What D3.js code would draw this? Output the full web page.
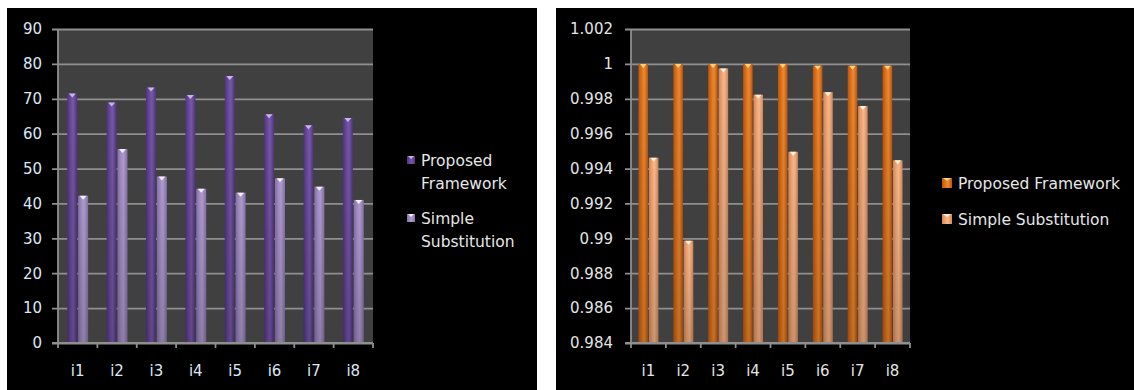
<!DOCTYPE html>
<html>
<head>
<meta charset="utf-8">
<script src="https://cdn.jsdelivr.net/npm/d3@7"></script>
<style>
  body { margin: 0; background: #fff; }
  svg text { font-family: "DejaVu Sans", Verdana, sans-serif; }
</style>
</head>
<body>
<div id="Chart"></div>
<script>
// categories shared by both charts
var categories = ["i1", "i2", "i3", "i4", "i5", "i6", "i7", "i8"];
var seriesNames = ["Proposed Framework", "Simple Substitution"];

// left chart values
var leftProposed = [71.5, 68.9, 73.2, 71.1, 76.5, 65.6, 62.4, 64.5];
var leftSimple   = [42.2, 55.6, 47.7, 44.2, 43.1, 47.2, 44.8, 41.0];
var leftTicks = [0, 10, 20, 30, 40, 50, 60, 70, 80, 90];
var leftTickLabels = ["0", "10", "20", "30", "40", "50", "60", "70", "80", "90"];

// right chart values
var rightProposed = [1.0, 1.0, 1.0, 1.0, 1.0, 0.9999, 0.9999, 0.9999];
var rightSimple   = [0.99462, 0.98986, 0.99974, 0.99823, 0.99496, 0.99838, 0.99758, 0.99447];
var rightTicks = [0.984, 0.986, 0.988, 0.99, 0.992, 0.994, 0.996, 0.998, 1.0, 1.002];
var rightTickLabels = ["0.984", "0.986", "0.988", "0.99", "0.992", "0.994", "0.996", "0.998", "1", "1.002"];

var svg = d3.select("#Chart")
    .append("svg")
    .attr("width", 1134)
    .attr("height", 390)
    .attr("class", "chart");

var defs = svg.append("defs");

// horizontal shading to give the bars a rounded look
function addGradient(id, edge, mid, light) {
    var g = defs.append("linearGradient").attr("id", id)
        .attr("x1", "0%").attr("x2", "100%").attr("y1", "0%").attr("y2", "0%");
    g.append("stop").attr("offset", "0%").attr("stop-color", edge);
    g.append("stop").attr("offset", "35%").attr("stop-color", mid);
    g.append("stop").attr("offset", "60%").attr("stop-color", light);
    g.append("stop").attr("offset", "100%").attr("stop-color", edge);
}
addGradient("purpleDark", "#4e3578", "#6a4a9e", "#7658aa");
addGradient("purpleLight", "#8370a4", "#a38ec6", "#ae9bcd");
addGradient("orangeDark", "#b9560f", "#e2741c", "#ee8a30");
addGradient("orangeLight", "#cf865a", "#f2a775", "#f8b88c");

var shade = defs.append("linearGradient").attr("id", "shade")
    .attr("x1", "0%").attr("x2", "0%").attr("y1", "0%").attr("y2", "100%");
shade.append("stop").attr("offset", "0%").attr("stop-color", "#000").attr("stop-opacity", 0);
shade.append("stop").attr("offset", "100%").attr("stop-color", "#000").attr("stop-opacity", 0.18);

// black panels
svg.append("rect").attr("x", 7).attr("y", 8).attr("width", 530).attr("height", 382).attr("fill", "#000");
svg.append("rect").attr("x", 556).attr("y", 8).attr("width", 578).attr("height", 382).attr("fill", "#000");

function drawChart(opt) {
    var data = categories.map(function(c, i) {
        return {cat: c, values: [opt.a[i], opt.b[i]]};
    });

    var x = d3.scaleBand().domain(categories).range([opt.left, opt.right]);
    var xs = d3.scaleBand().domain([0, 1]).range([0, x.bandwidth()])
        .paddingInner(0.08).paddingOuter(opt.outer);
    var y = d3.scaleLinear().domain(opt.domain).range([343, 29]);

    var g = svg.append("g");

    // plot area background
    g.append("rect")
        .attr("x", opt.left).attr("y", y(opt.domain[1]))
        .attr("width", opt.right - opt.left)
        .attr("height", y(opt.domain[0]) - y(opt.domain[1]))
        .attr("fill", "#404040");

    // Y axis with gridlines
    var yAxis = d3.axisLeft(y)
        .tickValues(opt.ticks)
        .tickSize(-(opt.right - opt.left))
        .tickPadding(opt.pad)
        .tickFormat(function(d, i) { return opt.labels[i]; });
    var ya = g.append("g")
        .attr("class", "y axis")
        .attr("transform", "translate(" + opt.left + ",0)")
        .call(yAxis);
    ya.select(".domain").remove();
    ya.selectAll(".tick line")
        .attr("x1", -6)
        .attr("stroke", "#8f8f8f")
        .attr("stroke-width", 1.8);
    ya.selectAll(".tick text")
        .attr("fill", opt.textColor)
        .style("font-size", "15px");
    g.append("line")
        .attr("x1", opt.left).attr("x2", opt.left)
        .attr("y1", y(opt.domain[1])).attr("y2", y(opt.domain[0]))
        .attr("stroke", "#8f8f8f").attr("stroke-width", 1.8);

    // bars
    var groups = g.selectAll(".grp")
        .data(data)
        .enter().append("g")
        .attr("class", "grp")
        .attr("transform", function(d) { return "translate(" + x(d.cat) + ",0)"; });

    var bars = groups.selectAll(".bar")
        .data(function(d) { return d.values.map(function(v, k) { return {k: k, v: v}; }); })
        .enter();

    bars.append("rect")
        .attr("class", "bar")
        .attr("x", function(d) { return xs(d.k); })
        .attr("y", function(d) { return y(d.v); })
        .attr("width", xs.bandwidth())
        .attr("height", function(d) { return y(opt.domain[0]) - y(d.v); })
        .attr("fill", function(d) { return "url(#" + opt.fills[d.k] + ")"; });
    bars.append("rect")
        .attr("x", function(d) { return xs(d.k); })
        .attr("y", function(d) { return y(d.v); })
        .attr("width", xs.bandwidth())
        .attr("height", function(d) { return y(opt.domain[0]) - y(d.v); })
        .attr("fill", "url(#shade)");
    // little cap on top of each bar
    bars.append("path")
        .attr("d", function(d) {
            var x0 = xs(d.k), w = xs.bandwidth(), t = y(d.v);
            return "M" + (x0 + 1.5) + "," + t + "L" + (x0 + w - 1.5) + "," + t +
                "L" + (x0 + w / 2) + "," + (t + 4) + "Z";
        })
        .attr("fill", function(d) { return opt.caps[d.k]; });

    // X axis
    var base = y(opt.domain[0]);
    g.append("line")
        .attr("x1", opt.left - 6).attr("x2", opt.right)
        .attr("y1", base).attr("y2", base)
        .attr("stroke", "#8f8f8f").attr("stroke-width", 1.8);
    g.selectAll(".xtick")
        .data(categories.concat(["end"]))
        .enter().append("line")
        .attr("x1", function(d, i) { return opt.left + i * x.step(); })
        .attr("x2", function(d, i) { return opt.left + i * x.step(); })
        .attr("y1", base).attr("y2", base + 5)
        .attr("stroke", "#8f8f8f").attr("stroke-width", 1.8);
    g.selectAll(".xlabel")
        .data(categories)
        .enter().append("text")
        .attr("x", function(d) { return x(d) + x.bandwidth() / 2; })
        .attr("y", 375.5)
        .attr("text-anchor", "middle")
        .attr("fill", opt.textColor)
        .style("font-size", "15px")
        .text(function(d) { return d; });

    // legend
    var lg = g.selectAll(".legend")
        .data(seriesNames)
        .enter().append("g")
        .attr("transform", function(d, i) { return "translate(" + opt.legendX + "," + opt.legendY[i] + ")"; });
    lg.append("rect")
        .attr("x", 0).attr("y", -opt.sq / 2)
        .attr("width", opt.sq).attr("height", opt.sq)
        .attr("fill", function(d, i) { return "url(#" + opt.fills[i] + ")"; });
    lg.append("path")
        .attr("d", "M1," + (-opt.sq / 2) + "L" + (opt.sq - 1) + "," + (-opt.sq / 2) + "L" + (opt.sq / 2) + "," + (-opt.sq / 2 + 3) + "Z")
        .attr("fill", function(d, i) { return opt.caps[i]; });
    var lt = lg.append("text")
        .attr("x", opt.sq + 6)
        .attr("fill", opt.legendColor)
        .style("font-size", "15.5px");
    lt.selectAll("tspan")
        .data(function(d) { return opt.wrap ? d.split(" ") : [d]; })
        .enter().append("tspan")
        .attr("x", opt.sq + 6)
        .attr("y", function(d, i) { return 5.5 + i * 23; })
        .text(function(d) { return d; });
}

drawChart({
    a: leftProposed, b: leftSimple,
    left: 58, right: 373, outer: 0.85, pad: 16,
    domain: [0, 90], ticks: leftTicks, labels: leftTickLabels,
    fills: ["purpleDark", "purpleLight"], caps: ["#c9b5ea", "#f2ecfb"],
    textColor: "#dbe7f5", legendColor: "#e6e6e6",
    legendX: 407, legendY: [160, 218], sq: 8, wrap: true
});

drawChart({
    a: rightProposed, b: rightSimple,
    left: 631, right: 910, outer: 0.72, pad: 18,
    domain: [0.984, 1.002], ticks: rightTicks, labels: rightTickLabels,
    fills: ["orangeDark", "orangeLight"], caps: ["#ffd27a", "#fff0dc"],
    textColor: "#e4e4e4", legendColor: "#e6e6e6",
    legendX: 942, legendY: [183, 219], sq: 10, wrap: false
});
</script>
</body>
</html>
